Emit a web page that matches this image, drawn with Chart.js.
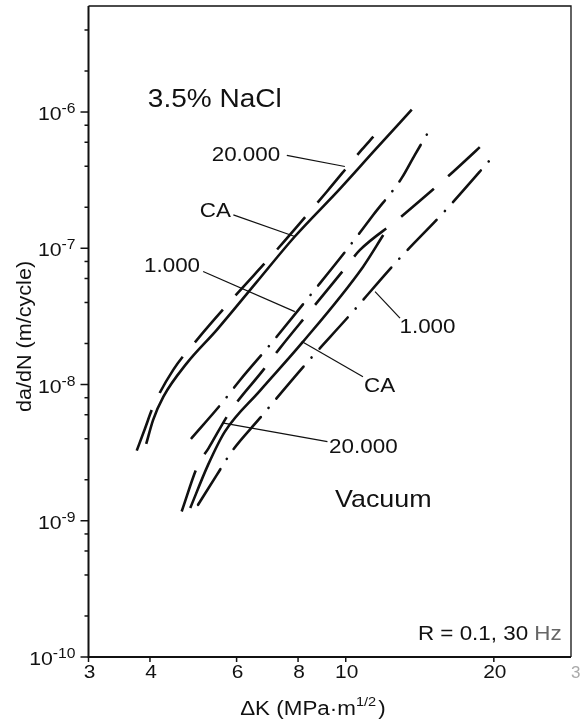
<!DOCTYPE html>
<html>
<head>
<meta charset="utf-8">
<title>da/dN vs ΔK</title>
<script src="https://cdn.jsdelivr.net/npm/chart.js@4.4.1/dist/chart.umd.min.js"></script>
<style>
  html, body { margin: 0; padding: 0; background: #fff; }
  #wrap { width: 580px; height: 726px; position: relative; }
</style>
</head>
<body>
<div id="wrap"><canvas id="chart"></canvas></div>
<script>
// values: ΔK in MPa·m^1/2, da/dN in m/cycle

// 3.5% NaCl
const naclDK20k   = [3.76, 3.91, 4.06, 4.46, 4.98, 5.86, 7.24, 9.15, 10.77, 11.38];
const naclRate20k = [3.27e-9, 4.78e-9, 6.89e-9, 1.28e-8, 2.12e-8, 4.18e-8, 9.72e-8, 2.6e-7, 5.27e-7, 6.6e-7];

const naclDKCA    = [3.93, 4.06, 4.26, 4.75, 5.47, 6.57, 7.88, 9.73, 11.47, 13.62];
const naclRateCA  = [3.66e-9, 5.5e-9, 8.15e-9, 1.43e-8, 2.52e-8, 5.57e-8, 1.22e-7, 2.73e-7, 5.27e-7, 1.04e-6];

const naclDK1k    = [4.86, 5.6, 6.1, 7.01, 8.59, 10.04, 11.38, 12.99, 13.82, 14.95];
const naclRate1k  = [4.04e-9, 7.3e-9, 1.08e-8, 1.95e-8, 4.81e-8, 9.72e-8, 1.76e-7, 3.27e-7, 4.85e-7, 7.83e-7];

// vacuum
const vacDK20k    = [4.64, 5.01, 5.26, 5.82, 6.8, 7.35, 8.39, 9.96, 10.69, 12.69, 15.99, 19.73];
const vacRate20k  = [1.17e-9, 2.57e-9, 3.4e-9, 6.32e-9, 1.28e-8, 1.85e-8, 3.33e-8, 7.11e-8, 9.72e-8, 1.6e-7, 3.27e-7, 6.58e-7];

const vacDKCA     = [4.83, 5.25, 5.68, 6.69, 8.14, 10.84, 11.92];
const vacRateCA   = [1.24e-9, 2.57e-9, 4.51e-9, 8.98e-9, 2.01e-8, 7.3e-8, 1.25e-7];

const vacDK1k     = [5.01, 5.47, 5.86, 6.69, 8.26, 10.2, 12.69, 16.04, 20.2];
const vacRate1k   = [1.31e-9, 2.17e-9, 3.21e-9, 5.66e-9, 1.39e-8, 3.24e-8, 7.98e-8, 1.94e-7, 4.99e-7];

// axis ticks
const xTicks = [3, 4, 6, 8, 10, 20];
const yMajor = [1e-10, 1e-9, 1e-8, 1e-7, 1e-6];
const yMinorMult = [2, 4, 6, 8];

const FONT = '"Liberation Sans", Arial, sans-serif';
const INK = '#111';
const DASH = [43, 19];
const DASHDOT = [42, 12, 0.1, 12];

const pts = (xs, ys) => xs.map((v, i) => ({ x: v, y: ys[i] }));

const series = [
  { data: pts(naclDK20k, naclRate20k), dash: DASH, cap: 'butt' },
  { data: pts(naclDKCA, naclRateCA), dash: [], cap: 'butt' },
  { data: pts(naclDK1k, naclRate1k), dash: DASHDOT, cap: 'round' },
  { data: pts(vacDK20k, vacRate20k), dash: DASH, cap: 'butt' },
  { data: pts(vacDKCA, vacRateCA), dash: [], cap: 'butt' },
  { data: pts(vacDK1k, vacRate1k), dash: DASHDOT, cap: 'round' },
];

// labels and leader lines, anchored in data units
const notes = [
  { text: '3.5% NaCl', at: [3.96, 1.09e-6], size: 25 },
  { text: '20.000', at: [5.34, 4.34e-7], size: 20, from: [7.59, 4.8e-7], to: [9.96, 3.98e-7] },
  { text: 'CA', at: [5.05, 1.71e-7], size: 20, from: [5.91, 1.76e-7], to: [7.88, 1.22e-7] },
  { text: '1.000', at: [3.89, 6.75e-8], size: 20, from: [5.13, 6.75e-8], to: [7.88, 3.43e-8] },
  { text: '1.000', at: [12.86, 2.39e-8], size: 20, from: [12.89, 3.07e-8], to: [11.47, 4.81e-8] },
  { text: 'CA', at: [10.89, 8.87e-9], size: 20, from: [10.84, 1.14e-8], to: [8.14, 2.07e-8] },
  { text: '20.000', at: [9.25, 3.15e-9], size: 20, from: [9.18, 3.81e-9], to: [5.65, 5.2e-9] },
  { text: 'Vacuum', at: [9.51, 1.26e-9], size: 24 },
  { text: 'R = 0.1, 30 ', at: [14.02, 1.33e-10], size: 20, tail: 'Hz' },
];

// scan text is a bit wide, so stretch horizontally
function txt(ctx, s, x, y, size, sx, align) {
  ctx.save();
  ctx.font = size + 'px ' + FONT;
  const w = ctx.measureText(s).width * sx;
  let x0 = x;
  if (align === 'center') x0 = x - w / 2;
  else if (align === 'right') x0 = x - w;
  ctx.translate(x0, y);
  ctx.scale(sx, 1);
  ctx.textAlign = 'left';
  ctx.textBaseline = 'alphabetic';
  ctx.fillText(s, 0, 0);
  ctx.restore();
  return w;
}

function seg(ctx, x1, y1, x2, y2) {
  ctx.beginPath();
  ctx.moveTo(x1, y1);
  ctx.lineTo(x2, y2);
  ctx.stroke();
}

const frame = {
  id: 'frame',
  afterDraw(chart) {
    const { ctx, chartArea: a } = chart;
    const xs = chart.scales.x, ys = chart.scales.y;
    ctx.save();
    ctx.strokeStyle = INK;
    ctx.fillStyle = INK;

    // box
    ctx.lineWidth = 1.3;
    ctx.beginPath();
    ctx.moveTo(a.left, a.top);
    ctx.lineTo(a.right, a.top);
    ctx.lineTo(a.right, a.bottom);
    ctx.stroke();
    ctx.lineWidth = 2;
    ctx.beginPath();
    ctx.moveTo(a.left, a.top);
    ctx.lineTo(a.left, a.bottom);
    ctx.lineTo(a.right, a.bottom);
    ctx.stroke();

    // y ticks + labels
    ctx.lineWidth = 1.5;
    yMajor.forEach(v => {
      const py = ys.getPixelForValue(v);
      seg(ctx, a.left - 8, py, a.left, py);
      yMinorMult.forEach(m => {
        const mv = v * m;
        if (mv < ys.max * 0.98) {
          const p = ys.getPixelForValue(mv);
          seg(ctx, a.left - 4, p, a.left, p);
        }
      });
      const exp = '-' + Math.abs(Math.round(Math.log10(v)));
      const ew = txt(ctx, exp, a.left - 13, py + 1, 14, 1.12, 'right');
      txt(ctx, '10', a.left - 13 - ew, py + 8, 19, 1.12, 'right');
    });

    // x ticks + labels
    xTicks.forEach(v => {
      const px = xs.getPixelForValue(v);
      seg(ctx, px, a.bottom, px, a.bottom + 5);
      txt(ctx, String(v), px + 1, a.bottom + 21, 19, 1.1, 'center');
    });
    ctx.fillStyle = '#aaa';
    txt(ctx, '30', xs.getPixelForValue(30), a.bottom + 21, 17, 1.0, 'center');
    ctx.fillStyle = INK;

    // x title with superscript
    const cx = a.left + 0.465 * (a.right - a.left);
    const by = 715;
    ctx.font = '20px ' + FONT;
    const sx = 1.12;
    const w1 = ctx.measureText('ΔK (MPa·m').width * sx;
    ctx.font = '13px ' + FONT;
    const w2 = ctx.measureText('1/2').width * sx;
    ctx.font = '20px ' + FONT;
    const w3 = ctx.measureText(')').width * sx;
    let x0 = cx - (w1 + w2 + w3 + 2) / 2;
    txt(ctx, 'ΔK (MPa·m', x0, by, 20, sx, 'left');
    txt(ctx, '1/2', x0 + w1, by - 9, 13, sx, 'left');
    txt(ctx, ')', x0 + w1 + w2 + 2, by, 20, sx, 'left');

    // y title
    ctx.save();
    ctx.translate(31, (a.top + a.bottom) / 2 + 5);
    ctx.rotate(-Math.PI / 2);
    txt(ctx, 'da/dN (m/cycle)', 0, 0, 20, 1.08, 'center');
    ctx.restore();

    // annotations
    ctx.lineWidth = 1.2;
    notes.forEach(n => {
      const px = xs.getPixelForValue(n.at[0]);
      const py = ys.getPixelForValue(n.at[1]);
      const w = txt(ctx, n.text, px, py, n.size, 1.12, 'left');
      if (n.tail) {
        ctx.fillStyle = '#666';
        txt(ctx, n.tail, px + w, py, n.size, 1.12, 'left');
        ctx.fillStyle = INK;
      }
      if (n.from) {
        seg(ctx,
          xs.getPixelForValue(n.from[0]), ys.getPixelForValue(n.from[1]),
          xs.getPixelForValue(n.to[0]), ys.getPixelForValue(n.to[1]));
      }
    });

    ctx.restore();
  }
};

new Chart(document.getElementById('chart'), {
  type: 'line',
  data: {
    datasets: series.map(s => ({
      data: s.data,
      borderColor: INK,
      borderWidth: 2.6,
      borderDash: s.dash,
      borderCapStyle: s.cap,
      pointRadius: 0,
      fill: false,
      cubicInterpolationMode: 'monotone',
    })),
  },
  options: {
    responsive: true,
    maintainAspectRatio: false,
    animation: false,
    layout: { padding: { top: 6, right: 9, left: 0, bottom: 0 } },
    plugins: { legend: { display: false }, tooltip: { enabled: false } },
    scales: {
      x: {
        type: 'logarithmic',
        min: 3,
        max: 28.7,
        ticks: { display: false },
        grid: { display: false },
        border: { display: false },
        afterFit: s => { s.height = 69; },
      },
      y: {
        type: 'logarithmic',
        min: 1e-10,
        max: 6e-6,
        ticks: { display: false },
        grid: { display: false },
        border: { display: false },
        afterFit: s => { s.width = 88.5; },
      },
    },
  },
  plugins: [frame],
});
</script>
</body>
</html>
